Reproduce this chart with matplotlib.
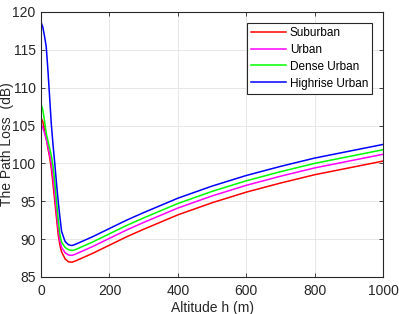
import numpy as np
import matplotlib
matplotlib.use('Agg')
import matplotlib.pyplot as plt

plt.rcParams['font.family'] = ['Liberation Sans', 'DejaVu Sans']

# Altitude samples (m) and path loss (dB)
altitude = [0, 5, 10, 15, 20, 25, 30, 35, 40, 45, 50, 55, 60, 70, 80, 90, 100,
            120, 150, 200, 250, 300, 400, 500, 600, 700, 800, 900, 1000]

suburban = [106.0, 105.5, 104.3, 103.3, 102.0, 100.8, 99.3, 97.2, 95.0, 92.8,
            90.6, 89.2, 88.3, 87.4, 87.0, 86.95, 87.1, 87.5, 88.1, 89.2, 90.3,
            91.3, 93.2, 94.8, 96.2, 97.4, 98.5, 99.4, 100.3]
urban = [105.1, 104.7, 104.0, 103.2, 102.3, 101.2, 100.0, 98.2, 96.0, 93.7,
         91.5, 89.8, 88.9, 88.2, 87.9, 87.85, 88.0, 88.4, 89.0, 90.1, 91.2,
         92.2, 94.1, 95.7, 97.1, 98.3, 99.4, 100.3, 101.2]
dense_urban = [107.8, 107.1, 105.6, 104.0, 103.0, 102.0, 101.0, 99.6, 97.5, 95.0,
               92.6, 90.6, 89.6, 88.9, 88.6, 88.5, 88.6, 89.0, 89.6, 90.7, 91.8,
               92.8, 94.7, 96.3, 97.7, 98.9, 100.0, 100.9, 101.8]
highrise_urban = [118.6, 118.0, 116.8, 115.4, 112.3, 108.7, 105.1, 102.4, 100.0, 97.4,
                  95.0, 92.9, 91.0, 89.7, 89.25, 89.15, 89.3, 89.7, 90.3, 91.4, 92.5,
                  93.5, 95.4, 97.0, 98.4, 99.6, 100.7, 101.6, 102.5]

labels = ['Suburban', 'Urban', 'Dense Urban', 'Highrise Urban']
colors = ['#ff0000', '#ff00ff', '#00ff00', '#0000ff']

fig = plt.figure(figsize=(3.99, 3.14), dpi=100)
ax = fig.add_axes([0.103, 0.118, 0.857, 0.844])

for y, lab, c in zip([suburban, urban, dense_urban, highrise_urban], labels, colors):
    ax.plot(altitude, y, color=c, linewidth=1.1, label=lab)

ax.set_xlim(0, 1000)
ax.set_ylim(85, 120)
ax.set_xticks([0, 200, 400, 600, 800, 1000])
ax.set_yticks(np.arange(85, 121, 5))
ax.grid(True, color='#e3e3e3', linewidth=0.6)
ax.set_axisbelow(True)
ax.tick_params(direction='in', top=True, right=True, labelsize=10,
               length=3, width=0.6, colors='#262626')
ax.tick_params(axis='x', pad=5)
ax.tick_params(axis='y', pad=4)
for s in ax.spines.values():
    s.set_linewidth(0.8)
    s.set_color('#262626')

ax.set_xlabel('Altitude h (m)', fontsize=10, color='#262626', labelpad=2)
ax.set_ylabel('The Path Loss  (dB)', fontsize=10, color='#262626', labelpad=-1)

leg = ax.legend(loc='upper right', fontsize=8.5, fancybox=False, framealpha=1,
                edgecolor='#262626', borderpad=0.35, labelspacing=0.42,
                handlelength=3.0, handletextpad=0.3, borderaxespad=0.9)
leg.get_frame().set_linewidth(0.8)

fig.savefig('out.png', dpi=100)
